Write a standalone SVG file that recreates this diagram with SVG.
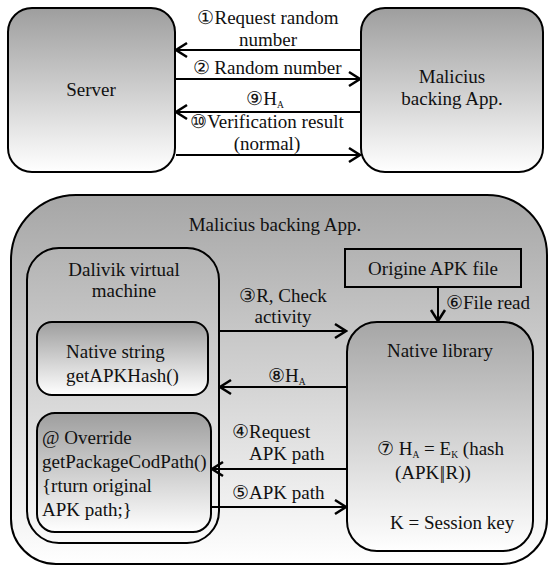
<svg xmlns="http://www.w3.org/2000/svg" width="550" height="571" viewBox="0 0 550 571" font-family="'Liberation Serif', 'DejaVu Serif', serif">
<defs>
<linearGradient id="g1" x1="0" y1="0" x2="0" y2="1">
<stop offset="0" stop-color="#9e9e9e"/>
<stop offset="1" stop-color="#ffffff"/>
</linearGradient>
<linearGradient id="g2" x1="0" y1="0" x2="0" y2="1">
<stop offset="0" stop-color="#a6a6a6"/>
<stop offset="1" stop-color="#ffffff"/>
</linearGradient>
<marker id="ah" viewBox="-13 -9 15 18" markerWidth="15" markerHeight="18" refX="0" refY="0" orient="auto" markerUnits="userSpaceOnUse">
<polyline points="-11,-7 0,0 -11,7" fill="none" stroke="#000" stroke-width="2.5"/>
</marker>
<style>
.box{stroke:#000;stroke-width:2;}
.t{font-family:'Liberation Serif', 'DejaVu Serif', serif;font-size:19px;fill:#111;}
.c{text-anchor:middle;}
.sub{font-size:9.5px;}
.ln{stroke:#000;stroke-width:2;fill:none;marker-end:url(#ah);}
</style>
</defs>

<g id="server">
<rect class="box" x="8" y="8" width="167" height="164" rx="24" fill="url(#g1)"/>
<text class="t c" x="91" y="96">Server</text>
</g>

<g id="malicius-top">
<rect class="box" x="361" y="8" width="182" height="164" rx="24" fill="url(#g1)"/>
<text class="t c" x="452" y="83">Malicius</text>
<text class="t c" x="452" y="105">backing App.</text>
</g>

<g id="outer-app">
<path class="box" fill="url(#g2)" d="M76,195 H487 A60,60 0 0 1 547,255 V519 A45,45 0 0 1 502,564 H56 A45,45 0 0 1 11,519 V260 A65,65 0 0 1 76,195 Z"/>
<text class="t c" x="275" y="231">Malicius backing App.</text>
</g>

<g id="dalvik">
<rect class="box" x="27" y="248" width="192" height="295" rx="32" fill="none"/>
<text class="t c" x="124" y="276">Dalivik virtual</text>
<text class="t c" x="124" y="297">machine</text>
</g>

<g id="native-string">
<rect class="box" x="37" y="322" width="171" height="73" rx="15" fill="url(#g1)"/>
<text class="t" x="66" y="358">Native string</text>
<text class="t" x="66" y="382">getAPKHash()</text>
</g>

<g id="override">
<rect class="box" x="37" y="413" width="174" height="119" rx="18" fill="url(#g1)"/>
<text class="t" x="42" y="444">@ Override</text>
<text class="t" x="42" y="468">getPackageCodPath()</text>
<text class="t" x="42" y="492">{rturn original</text>
<text class="t" x="42" y="516">APK path;}</text>
</g>

<g id="origine-apk">
<rect class="box" x="345" y="249" width="176" height="38" fill="none"/>
<text class="t c" x="433" y="275">Origine APK file</text>
</g>

<g id="native-library">
<rect class="box" x="347" y="322" width="186" height="229" rx="30" fill="url(#g2)"/>
<text class="t c" x="440" y="357">Native library</text>
<text class="t" x="377" y="455">⑦ H<tspan class="sub" dy="3">A</tspan><tspan dy="-3"> = E</tspan><tspan class="sub" dy="3">K</tspan><tspan dy="-3"> (hash</tspan></text>
<text class="t" x="395" y="479">(APK<tspan dx="0.5">|</tspan><tspan dx="-2.5">|</tspan><tspan dx="0.5">R))</tspan></text>
<text class="t" x="390" y="529">K = Session key</text>
</g>

<g id="connectors">
<line class="ln" x1="361" y1="50" x2="176" y2="50"/>
<line class="ln" x1="176" y1="79" x2="360" y2="79"/>
<line class="ln" x1="361" y1="112" x2="176" y2="112"/>
<line class="ln" x1="176" y1="155" x2="360" y2="155"/>
<line class="ln" x1="219" y1="331" x2="346" y2="331"/>
<line class="ln" x1="347" y1="387" x2="220" y2="387"/>
<line class="ln" x1="347" y1="469" x2="212" y2="469"/>
<line class="ln" x1="211" y1="507" x2="346" y2="507"/>
<line class="ln" x1="438" y1="287" x2="438" y2="321"/>

<text class="t c" x="268" y="24">①Request random</text>
<text class="t c" x="268" y="46">number</text>
<text class="t c" x="267" y="74">② Random number</text>
<text class="t c" x="265" y="105">⑨H<tspan class="sub" dy="3">A</tspan></text>
<text class="t c" x="267" y="128">⑩Verification result</text>
<text class="t c" x="267" y="150">(normal)</text>
<text class="t c" x="283" y="302">③R, Check</text>
<text class="t c" x="283" y="323">activity</text>
<text class="t" x="268" y="382">⑧H<tspan class="sub" dy="3">A</tspan></text>
<text class="t" x="232" y="438">④Request</text>
<text class="t" x="249" y="460">APK path</text>
<text class="t" x="232" y="499">⑤APK path</text>
<text class="t" x="446" y="309">⑥File read</text>
</g>
</svg>
